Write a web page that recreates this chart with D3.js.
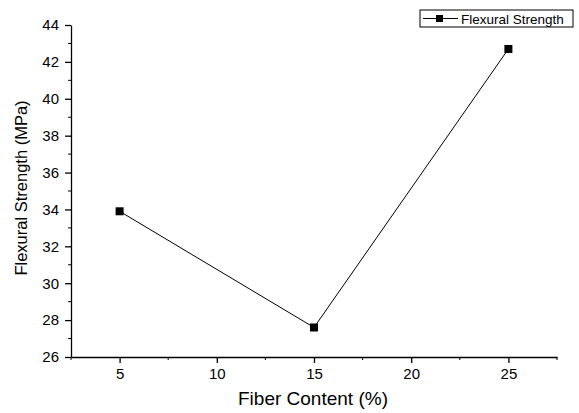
<!DOCTYPE html>
<html>
<head>
<meta charset="utf-8">
<script src="https://cdn.jsdelivr.net/npm/d3@7"></script>
<style>
  body { margin: 0; background: #fff; }
  svg { display: block; }
</style>
</head>
<body>
<div id="chart"></div>
<script>
  var fiberContent = [5, 15, 25];
  var flexuralStrength = [33.9, 27.6, 42.7];
  var xTicks = [5, 10, 15, 20, 25];
  var yTicks = [26, 28, 30, 32, 34, 36, 38, 40, 42, 44];
  var seriesName = 'Flexural Strength';

  var W = 579, H = 413;
  var margin = { top: 25, right: 22, bottom: 56, left: 71 };
  var width = W - margin.left - margin.right;
  var height = H - margin.top - margin.bottom;
  var font = 'Liberation Sans, Arial, sans-serif';

  var svg = d3.select('#chart').append('svg')
      .attr('width', W)
      .attr('height', H)
      .style('font-family', font);

  var x = d3.scaleLinear().domain([2.5, 27.5]).range([0, width]);
  var y = d3.scaleLinear().domain([26, 44]).range([height, 0]);

  var g = svg.append('g')
      .attr('transform', 'translate(' + margin.left + ',' + margin.top + ')');

  // minor ticks
  var xMinor = d3.range(2.5, 27.6, 2.5).filter(function (v) { return v % 5 !== 0; });
  var yMinor = d3.range(27, 44, 2);

  var xAxis = g.append('g')
      .attr('transform', 'translate(0,' + height + ')')
      .call(d3.axisBottom(x).tickValues(xTicks).tickSize(6).tickPadding(5).tickSizeOuter(0));
  xAxis.append('g').selectAll('line')
      .data(xMinor)
    .enter().append('line')
      .attr('x1', function (d) { return x(d); })
      .attr('x2', function (d) { return x(d); })
      .attr('y2', 3)
      .attr('stroke', '#000');

  var yAxis = g.append('g')
      .call(d3.axisLeft(y).tickValues(yTicks).tickSize(6).tickPadding(6).tickSizeOuter(0));
  yAxis.append('g').selectAll('line')
      .data(yMinor)
    .enter().append('line')
      .attr('y1', function (d) { return y(d); })
      .attr('y2', function (d) { return y(d); })
      .attr('x2', -3)
      .attr('stroke', '#000');

  [xAxis, yAxis].forEach(function (ax) {
    ax.select('.domain').attr('stroke', '#000').attr('stroke-width', 1.3);
    ax.selectAll('.tick line').attr('stroke', '#000').attr('stroke-width', 1.3);
    ax.selectAll('.tick text')
      .attr('fill', '#000')
      .style('font-size', '15px')
      .style('font-family', font);
  });

  var points = fiberContent.map(function (d, i) { return [d, flexuralStrength[i]]; });

  g.append('path')
      .datum(points)
      .attr('fill', 'none')
      .attr('stroke', '#000')
      .attr('stroke-width', 1)
      .attr('d', d3.line()
        .x(function (d) { return x(d[0]); })
        .y(function (d) { return y(d[1]); }));

  g.append('g').selectAll('rect')
      .data(points)
    .enter().append('rect')
      .attr('x', function (d) { return x(d[0]) - 4; })
      .attr('y', function (d) { return y(d[1]) - 4; })
      .attr('width', 8)
      .attr('height', 8)
      .attr('fill', '#000');

  // axis titles
  svg.append('text')
      .attr('x', 313)
      .attr('y', 405)
      .attr('text-anchor', 'middle')
      .style('font-size', '19px')
      .text('Fiber Content (%)');

  svg.append('text')
      .attr('transform', 'translate(27,188) rotate(-90)')
      .attr('text-anchor', 'middle')
      .style('font-size', '16.5px')
      .text('Flexural Strength (MPa)');

  // legend
  var legend = svg.append('g').attr('transform', 'translate(420,10)');
  legend.append('rect')
      .attr('width', 153)
      .attr('height', 17)
      .attr('fill', '#fff')
      .attr('stroke', '#000')
      .attr('stroke-width', 1);
  legend.append('line')
      .attr('x1', 3).attr('x2', 38)
      .attr('y1', 8.5).attr('y2', 8.5)
      .attr('stroke', '#000');
  legend.append('rect')
      .attr('x', 16).attr('y', 5)
      .attr('width', 7).attr('height', 7)
      .attr('fill', '#000');
  legend.append('text')
      .attr('x', 41)
      .attr('y', 13.5)
      .style('font-size', '13.5px')
      .text(seriesName);
</script>
</body>
</html>
